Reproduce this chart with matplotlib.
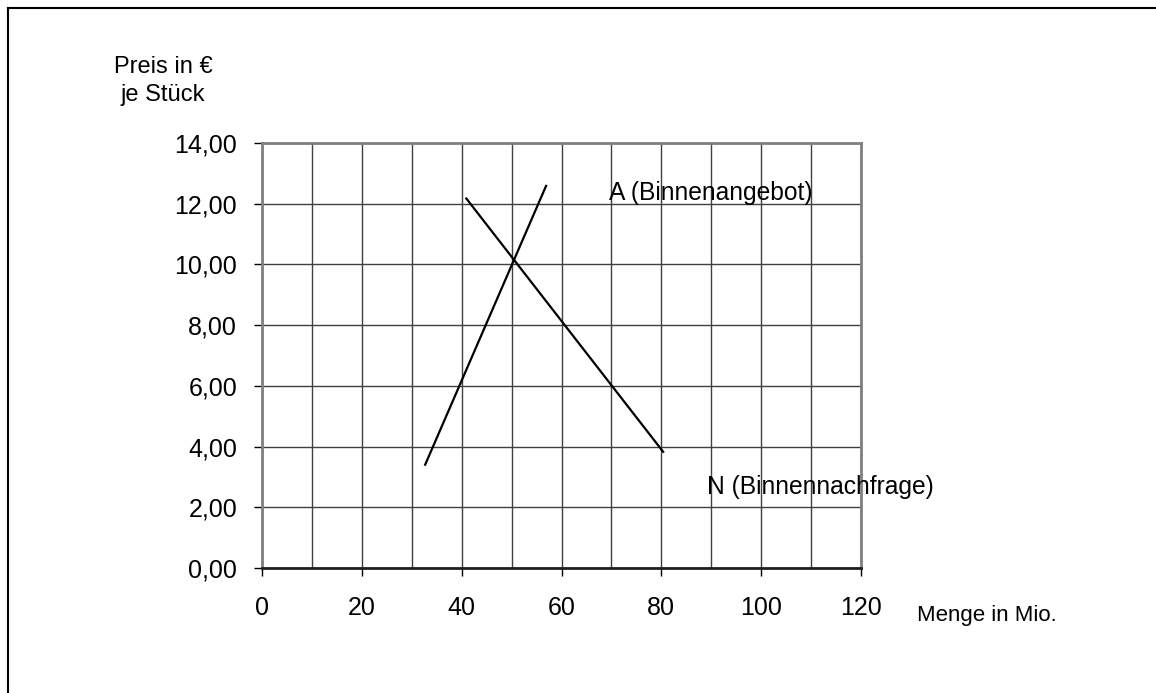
import matplotlib
matplotlib.use("Agg")
import matplotlib.pyplot as plt
from matplotlib.lines import Line2D
from matplotlib.ticker import MultipleLocator, FuncFormatter

# Data
supply_x = [32.6, 57.0]
supply_y = [3.37, 12.62]
demand_x = [40.8, 80.5]
demand_y = [12.2, 3.80]
supply_label = "A (Binnenangebot)"
demand_label = "N (Binnennachfrage)"
x_label = "Menge in Mio."
y_label = "Preis in €\nje Stück"

plt.rcParams['font.family'] = ['Liberation Sans', 'DejaVu Sans']

W, H = 1156, 693
fig = plt.figure(figsize=(W / 100, H / 100), dpi=100)
ax = fig.add_axes([262 / W, 1 - 568 / H, (861 - 262) / W, (568 - 143) / H])

ax.set_xlim(0, 120)
ax.set_ylim(0, 14)

ax.xaxis.set_major_locator(MultipleLocator(20))
ax.xaxis.set_minor_locator(MultipleLocator(10))
ax.yaxis.set_major_locator(MultipleLocator(2))
ax.yaxis.set_major_formatter(FuncFormatter(lambda v, p: f"{v:.2f}".replace(".", ",")))

ax.grid(True, which='both', axis='x', color='#404040', lw=1.0)
ax.grid(True, which='major', axis='y', color='#404040', lw=1.0)
ax.set_axisbelow(True)

ax.tick_params(axis='both', which='major', direction='out', length=6, width=1,
               color='black', labelsize=18)
ax.tick_params(axis='x', which='major', pad=14)
ax.tick_params(axis='y', which='major', pad=12)
ax.tick_params(axis='x', which='minor', length=0)

for s in ['left', 'top', 'right']:
    ax.spines[s].set_color('#808080')
    ax.spines[s].set_linewidth(2)
ax.spines['bottom'].set_color('#202020')
ax.spines['bottom'].set_linewidth(2)

ax.plot(supply_x, supply_y, color='black', lw=1.6, solid_capstyle='butt')
ax.plot(demand_x, demand_y, color='black', lw=1.6, solid_capstyle='butt')

# Labels placed in figure pixels
def fx(px):
    return px / W

def fy(py):
    return 1 - py / H

fig.text(fx(609), fy(193), supply_label, fontsize=17.7, va='center', ha='left')
fig.text(fx(707), fy(487), demand_label, fontsize=17.7, va='center', ha='left')
fig.text(fx(917), fy(615), x_label, fontsize=16, va='center', ha='left')
fig.text(fx(163), fy(81), y_label, fontsize=17, va='center', ha='center', linespacing=1.35)

# Figure border (clipped at right and bottom)
fig.add_artist(Line2D([fx(7.5), fx(7.5)], [-0.1, fy(7.5)], color='black', lw=1.5,
                      transform=fig.transFigure))
fig.add_artist(Line2D([fx(7.5), 1.1], [fy(7.5), fy(7.5)], color='black', lw=1.5,
                      transform=fig.transFigure))

fig.savefig("out.png", dpi=100)
